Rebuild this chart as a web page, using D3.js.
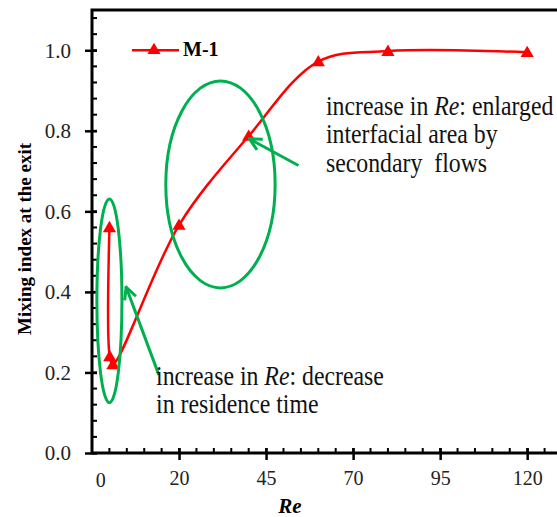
<!DOCTYPE html>
<html>
<head>
<meta charset="utf-8">
<script src="https://cdnjs.cloudflare.com/ajax/libs/d3/7.8.5/d3.min.js"></script>
<style>
  body { margin: 0; background: #fff; }
  svg text { font-family: "Liberation Serif", "Times New Roman", serif; }
</style>
</head>
<body>
<div id="chart"></div>
<script>
// data
var re_values = [0.01, 0.1, 1, 20, 40, 60, 80, 120];
var mixing_index = [0.56, 0.24, 0.22, 0.566, 0.787, 0.972, 0.998, 0.995];
var series_name = "M-1";
var x_tick_values = [20, 45, 70, 95, 120];
var y_tick_values = [0, 0.2, 0.4, 0.6, 0.8, 1.0];
// annotation ellipses, in data units: [cx, cy, rx, ry]
var ellipses = [[0, 0.378, 3.6, 0.253], [31.9, 0.667, 15.7, 0.257]];
// arrows, in data units: [fromX, fromY, toX, toY]
var arrows = [[14.2, 0.194, 4.8, 0.412], [54.3, 0.714, 40.2, 0.78]];
var notes = [
  {x: 62.2, y: 0.84, lines: [["increase in ", "Re", ": enlarged"], ["interfacial area by"], ["secondary  flows"]]},
  {x: 13.4, y: 0.169, lines: [["increase in ", "Re", ": decrease"], ["in residence time"]]}
];

var margin = {top: 10, right: 0, bottom: 64, left: 92},
    width = 557 - margin.left - margin.right,
    height = 517 - margin.top - margin.bottom;

var x = d3.scaleLinear().domain([-5, 130]).range([0, 470]);
var y = d3.scaleLinear().domain([0, 1.1]).range([height, 0]);

var svg = d3.select("#chart").append("svg")
    .attr("width", 557)
    .attr("height", 517)
  .append("g")
    .attr("transform", "translate(" + margin.left + "," + margin.top + ")");

var red = "#ff0000", green = "#00b050";

// minor ticks (inside)
var xminor = d3.range(-5, 131, 5);
svg.selectAll(".xminor").data(xminor).enter().append("line")
  .attr("x1", function(d){return x(d);}).attr("x2", function(d){return x(d);})
  .attr("y1", height).attr("y2", height - 5)
  .style("stroke", "#000").style("stroke-width", 2);
var yminor = d3.range(0, 1.1, 0.04);
svg.selectAll(".yminor").data(yminor).enter().append("line")
  .attr("y1", function(d){return y(d);}).attr("y2", function(d){return y(d);})
  .attr("x1", 0).attr("x2", 5)
  .style("stroke", "#000").style("stroke-width", 2);

// axes
var xaxis = svg.append("g")
  .attr("transform", "translate(0," + height + ")")
  .call(d3.axisBottom(x).tickValues(x_tick_values).tickSize(7).tickPadding(11).tickFormat(d3.format("d")));
xaxis.select(".domain").remove();
xaxis.selectAll(".tick line").attr("y1", -5).style("stroke-width", 2.5);
xaxis.selectAll("text").style("font-size", "20px").style("fill", "#222");
// first label sits next to the y axis
svg.append("text")
  .attr("x", x(-2.5)).attr("y", height + 34)
  .attr("text-anchor", "middle")
  .style("font-size", "20px").style("fill", "#222")
  .text("0");

var yaxis = svg.append("g")
  .call(d3.axisLeft(y).tickValues(y_tick_values).tickSize(7).tickPadding(14).tickFormat(d3.format(".1f")));
yaxis.select(".domain").remove();
yaxis.selectAll(".tick line").attr("x1", 5).style("stroke-width", 2.5);
yaxis.selectAll("text").style("font-size", "21px").style("fill", "#222");

// frame
svg.append("path")
  .attr("d", "M0," + height + "H" + (width + 5) + "M0," + height + "V0H" + (width + 5))
  .style("fill", "none").style("stroke", "#000").style("stroke-width", 3);

// series
var pts = re_values.map(function(v, i){return {x: v, y: mixing_index[i]};});
var line = d3.line()
  .x(function(d){return x(d.x);})
  .y(function(d){return y(d.y);})
  .curve(d3.curveCatmullRom.alpha(0.5));
svg.append("path").datum(pts)
  .attr("d", line)
  .style("fill", "none").style("stroke", red).style("stroke-width", 2.5);
var tri = d3.symbol().type(d3.symbolTriangle).size(75);
svg.selectAll(".pt").data(pts).enter().append("path")
  .attr("d", tri)
  .attr("transform", function(d){return "translate(" + x(d.x) + "," + (y(d.y) + 1) + ")";})
  .style("fill", red);

// legend
var lg = svg.append("g").attr("transform", "translate(40," + y(1.0) + ")");
lg.append("line").attr("x1", 0).attr("x2", 47).style("stroke", red).style("stroke-width", 2.5);
lg.append("path").attr("d", tri).attr("transform", "translate(22,0)").style("fill", red);
lg.append("text").attr("x", 51).attr("y", 6).text(series_name)
  .style("font-size", "20px").style("font-weight", "bold");

// green ellipses
svg.selectAll(".ell").data(ellipses).enter().append("ellipse")
  .attr("cx", function(d){return x(d[0]);})
  .attr("cy", function(d){return y(d[1]);})
  .attr("rx", function(d){return x(d[2]) - x(0);})
  .attr("ry", function(d){return y(0) - y(d[3]);})
  .style("fill", "none").style("stroke", green).style("stroke-width", 3);

// arrows
svg.append("defs").append("marker")
  .attr("id", "head").attr("viewBox", "0 0 10 10")
  .attr("refX", 9).attr("refY", 5)
  .attr("markerWidth", 5).attr("markerHeight", 5)
  .attr("markerUnits", "strokeWidth")
  .attr("orient", "auto")
  .append("path").attr("d", "M1,1L9,5L1,9").style("fill", "none").style("stroke", green).style("stroke-width", 2);
svg.selectAll(".arr").data(arrows).enter().append("line")
  .attr("x1", function(d){return x(d[0]);}).attr("y1", function(d){return y(d[1]);})
  .attr("x2", function(d){return x(d[2]);}).attr("y2", function(d){return y(d[3]);})
  .style("stroke", green).style("stroke-width", 3)
  .attr("marker-end", "url(#head)");

// annotation text (slightly condensed, as in the original)
notes.forEach(function(n){
  var t = svg.append("g")
    .attr("transform", "translate(" + x(n.x) + "," + y(n.y) + ") scale(0.85,1)")
    .append("text")
    .attr("xml:space", "preserve")
    .style("font-size", "28px").style("fill", "#111");
  n.lines.forEach(function(parts, i){
    parts.forEach(function(p, j){
      var s = t.append("tspan").text(p);
      if (j == 0) s.attr("x", 0).attr("dy", i == 0 ? 0 : 28.5);
      if (p == "Re") s.style("font-style", "italic");
    });
  });
});

// axis titles
svg.append("text")
  .attr("transform", "translate(-61," + (239 - margin.top) + ") rotate(-90)")
  .attr("text-anchor", "middle")
  .style("font-size", "19px").style("font-weight", "bold")
  .text("Mixing index at the exit");
svg.append("text")
  .attr("x", 290 - margin.left).attr("y", 513 - margin.top)
  .attr("text-anchor", "middle")
  .style("font-size", "21px").style("font-weight", "bold").style("font-style", "italic")
  .text("Re");
</script>
</body>
</html>
